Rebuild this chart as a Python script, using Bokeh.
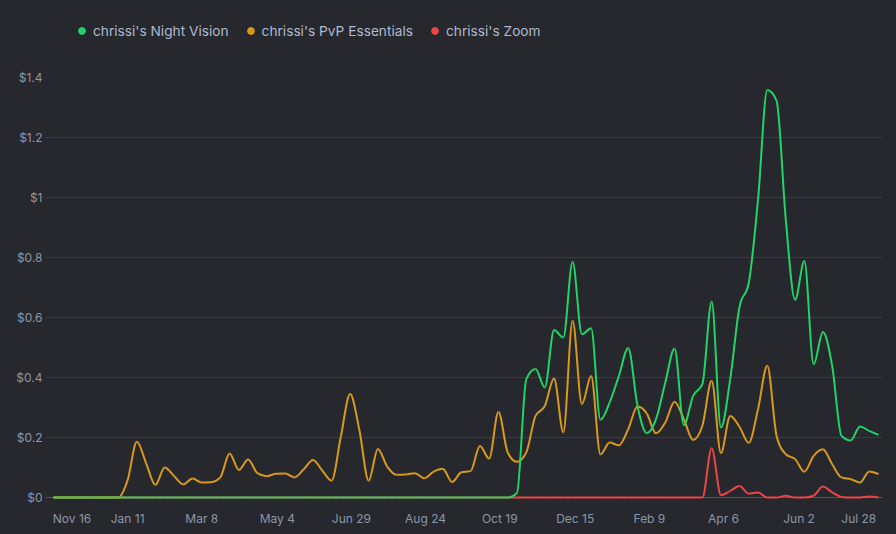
"""Weekly revenue per pack, dark theme, smoothed lines."""

import pandas as pd
from bokeh.embed import file_html
from bokeh.layouts import column
from bokeh.models import (
    Bezier,
    ColumnDataSource,
    CustomJSTickFormatter,
    FixedTicker,
    Legend,
    LegendItem,
    Range1d,
    Span,
)
from bokeh.plotting import figure
from bokeh.resources import INLINE

# weekly values, first week starting 2020-11-16
night_vision = [
    0, 0, 0, 0, 0, 0, 0, 0, 0, 0,
    0, 0, 0, 0, 0, 0, 0, 0, 0, 0,
    0, 0, 0, 0, 0, 0, 0, 0, 0, 0,
    0, 0, 0, 0, 0, 0, 0, 0, 0, 0,
    0, 0, 0, 0, 0, 0, 0, 0, 0, 0,
    0.015, 0.394, 0.428, 0.367, 0.558, 0.533, 0.786, 0.544, 0.564, 0.259,
    0.317, 0.406, 0.498, 0.306, 0.214, 0.261, 0.383, 0.497, 0.241, 0.339,
    0.378, 0.653, 0.233, 0.394, 0.635, 0.715, 0.992, 1.358, 1.323, 0.925,
    0.659, 0.788, 0.444, 0.552, 0.439, 0.206, 0.19, 0.237, 0.222, 0.209,
]
pvp_essentials = [
    0, 0, 0, 0, 0, 0, 0, 0, 0.058, 0.186,
    0.114, 0.042, 0.10, 0.072, 0.044, 0.063, 0.05, 0.051, 0.067, 0.147,
    0.092, 0.127, 0.081, 0.071, 0.079, 0.08, 0.067, 0.094, 0.125, 0.09,
    0.056, 0.203, 0.345, 0.225, 0.056, 0.162, 0.103, 0.076, 0.077, 0.081,
    0.064, 0.086, 0.096, 0.052, 0.084, 0.088, 0.172, 0.13, 0.285, 0.15,
    0.119, 0.15, 0.272, 0.305, 0.397, 0.217, 0.589, 0.311, 0.405, 0.144,
    0.183, 0.174, 0.228, 0.303, 0.28, 0.214, 0.25, 0.319, 0.261, 0.192,
    0.239, 0.389, 0.148, 0.272, 0.236, 0.182, 0.294, 0.439, 0.206, 0.144,
    0.128, 0.086, 0.139, 0.161, 0.111, 0.067, 0.061, 0.05, 0.087, 0.078,
]
zoom = [
    0, 0, 0, 0, 0, 0, 0, 0, 0, 0,
    0, 0, 0, 0, 0, 0, 0, 0, 0, 0,
    0, 0, 0, 0, 0, 0, 0, 0, 0, 0,
    0, 0, 0, 0, 0, 0, 0, 0, 0, 0,
    0, 0, 0, 0, 0, 0, 0, 0, 0, 0,
    0, 0, 0, 0, 0, 0, 0, 0, 0, 0,
    0, 0, 0, 0, 0, 0, 0, 0, 0, 0,
    0, 0.164, 0.008, 0.022, 0.038, 0.013, 0.017, 0, 0, 0.006,
    0, 0, 0.006, 0.037, 0.017, 0.002, 0, 0, 0.003, 0,
]

series_names = ["chrissi's Night Vision", "chrissi's PvP Essentials", "chrissi's Zoom"]
series_colors = ["#21d466", "#d99a1c", "#ef4444"]

tick_dates = [
    "2020-11-16", "2021-01-11", "2021-03-08", "2021-05-04", "2021-06-29", "2021-08-24",
    "2021-10-19", "2021-12-15", "2022-02-09", "2022-04-06", "2022-06-02", "2022-07-28",
]
tick_labels = [
    "Nov 16", "Jan 11", "Mar 8", "May 4", "Jun 29", "Aug 24",
    "Oct 19", "Dec 15", "Feb 9", "Apr 6", "Jun 2", "Jul 28",
]
y_ticks = [0, 0.2, 0.4, 0.6, 0.8, 1.0, 1.2, 1.4]
y_labels = ["$0", "$0.2", "$0.4", "$0.6", "$0.8", "$1", "$1.2", "$1.4"]

BG = "#27282e"
AXIS_TEXT = "#8c96a8"
FONT = "Inter"

dates = pd.date_range("2020-11-16", periods=len(night_vision), freq="7D")


def ms(d):
    return pd.Timestamp(d).value / 1e6


def _sign(v):
    return -1 if v < 0 else 1


def smooth_segments(xs, ys):
    """Monotone cubic curve through the points (no overshoot), as Bezier segments."""
    n = len(xs)
    h = [xs[i + 1] - xs[i] for i in range(n - 1)]
    s = [(ys[i + 1] - ys[i]) / h[i] for i in range(n - 1)]
    t = [0.0] * n
    for i in range(1, n - 1):
        s0, s1 = s[i - 1], s[i]
        p = (s0 * h[i] + s1 * h[i - 1]) / (h[i - 1] + h[i])
        t[i] = (_sign(s0) + _sign(s1)) * min(abs(s0), abs(s1), 0.5 * abs(p))
    t[0] = (3 * s[0] - t[1]) / 2
    t[-1] = (3 * s[-1] - t[-2]) / 2
    seg = {k: [] for k in ("x0", "y0", "x1", "y1", "cx0", "cy0", "cx1", "cy1")}
    for i in range(n - 1):
        seg["x0"].append(xs[i])
        seg["y0"].append(ys[i])
        seg["x1"].append(xs[i + 1])
        seg["y1"].append(ys[i + 1])
        seg["cx0"].append(xs[i] + h[i] / 3)
        seg["cy0"].append(ys[i] + h[i] * t[i] / 3)
        seg["cx1"].append(xs[i + 1] - h[i] / 3)
        seg["cy1"].append(ys[i + 1] - h[i] * t[i + 1] / 3)
    return ColumnDataSource(seg)


x_ms = [ms(d) for d in dates]
source = ColumnDataSource({"date": x_ms, "nv": night_vision, "pvp": pvp_essentials, "zoom": zoom})

# --- main chart -------------------------------------------------------------
p = figure(
    x_axis_type="datetime",
    frame_width=837,
    frame_height=424,
    min_border_left=45,
    min_border_right=14,
    min_border_top=27,
    min_border_bottom=33,
    x_range=Range1d(ms(dates[0] - pd.Timedelta(days=6)), ms(dates[-1] + pd.Timedelta(days=3))),
    y_range=Range1d(-0.0133, 1.4),
    output_backend="svg",
    toolbar_location=None,
)
p.background_fill_color = BG
p.border_fill_color = BG
p.outline_line_color = None

p.xgrid.grid_line_color = None
p.ygrid.grid_line_color = "#393b41"
p.add_layout(Span(location=0, dimension="width", line_color="#50545e", line_width=1, level="underlay"))

# zoom first, green on top like the original
for values, i in [(zoom, 2), (pvp_essentials, 1), (night_vision, 0)]:
    p.add_glyph(
        smooth_segments(x_ms, values),
        Bezier(x0="x0", y0="y0", x1="x1", y1="y1", cx0="cx0", cy0="cy0", cx1="cx1", cy1="cy1",
               line_color=series_colors[i], line_width=2),
    )

for ax in (p.xaxis[0], p.yaxis[0]):
    ax.axis_line_color = None
    ax.major_tick_line_color = None
    ax.minor_tick_line_color = None
    ax.major_tick_out = 0
    ax.minor_tick_out = 0
    ax.major_label_text_color = AXIS_TEXT
    ax.major_label_text_font = FONT
    ax.major_label_text_font_size = "12px"

p.yaxis.ticker = FixedTicker(ticks=y_ticks)
p.yaxis.formatter = CustomJSTickFormatter(args=dict(labels=y_labels), code="return labels[index];")
p.yaxis.major_label_standoff = 3

# the first and last labels sit inside the plot edges, as in the original:
# pad them with no-break spaces so that the centred text is pushed inward
p.xaxis.ticker = FixedTicker(ticks=[ms(d) for d in tick_dates])
p.xaxis.formatter = CustomJSTickFormatter(
    args=dict(labels=tick_labels),
    code="""
if (index == 0) return '\\u00a0'.repeat(11) + labels[index];
if (index == ticks.length - 1) return labels[index] + '\\u00a0'.repeat(6);
return labels[index];
""",
)
p.xaxis.major_label_standoff = 9

# --- legend strip on top ----------------------------------------------------
# the strip's ranges lie far from the data, so its scatter renderers draw
# nothing in view and only lend their round markers to the legend.
# no y axis here, so the frame starts at the left edge and the first marker
# is not clipped
lg = figure(
    width=896,
    height=50,
    x_range=Range1d(0, 1),
    y_range=Range1d(0, 1),
    y_axis_location=None,
    min_border=0,
    output_backend="svg",
    toolbar_location=None,
)
lg.axis.visible = False
lg.grid.visible = False
lg.outline_line_color = None
lg.background_fill_color = BG
lg.border_fill_color = BG

items = []
for key, i in [("nv", 0), ("pvp", 1), ("zoom", 2)]:
    r = lg.scatter("date", key, source=source, size=7,
                   fill_color=series_colors[i], line_color=series_colors[i])
    items.append(LegendItem(label=series_names[i], renderers=[r]))

lg.add_layout(Legend(
    items=items,
    orientation="horizontal",
    location=(28, 11),
    glyph_width=17,
    glyph_height=17,
    label_standoff=3,
    spacing=13,
    padding=0,
    margin=0,
    label_text_font=FONT,
    label_text_font_size="13.7px",
    label_text_color="#adb9cf",
    background_fill_alpha=0,
    border_line_alpha=0,
))

html = file_html(column(lg, p, spacing=0), INLINE)
html = html.replace("</head>", "<style>body{background:%s}</style></head>" % BG)
open("out.html", "w").write(html)
